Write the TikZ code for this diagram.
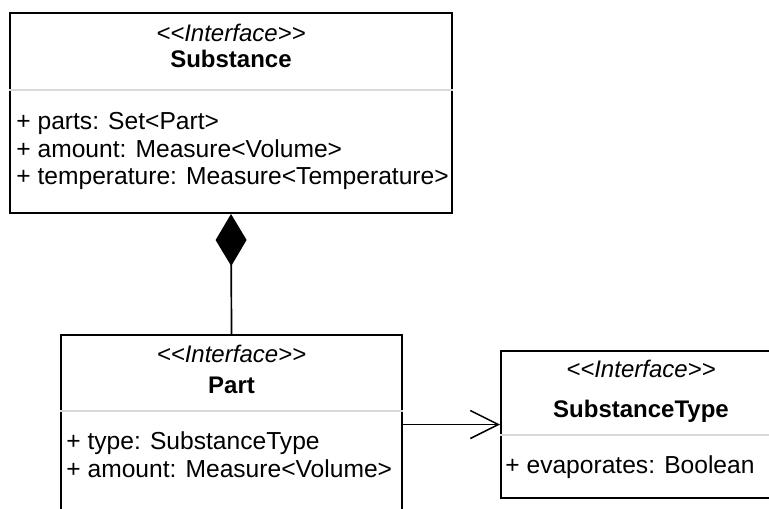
\documentclass[tikz,border=0pt]{standalone}
\usepackage{fontspec}
\setmainfont{Liberation Sans}[Ligatures=TeXOff]
\usetikzlibrary{arrows.meta}

\tikzset{
  classbox/.style={draw=black, line width=1pt, inner sep=0pt},
  sepline/.style={draw=black!15, line width=1pt},
  stereo/.style={font=\fontsize{12}{14}\selectfont\itshape, inner sep=0pt, anchor=base},
  classname/.style={font=\fontsize{12}{14}\selectfont\bfseries, inner sep=0pt, anchor=base},
  attr/.style={font=\fontsize{12.3}{14}\selectfont, inner sep=0pt, anchor=base west}
}

\begin{document}
\begin{tikzpicture}[x=0.5pt, y=-0.5pt]
\useasboundingbox (0,0) rectangle (769,508);
\clip (0,0) rectangle (769,508);

% Substance
\node [classbox, minimum width=221pt, minimum height=100pt] (substance) at (231,113) {};
\draw [sepline] ([yshift=-39pt]substance.north west) -- ([yshift=-39pt]substance.north east);
\node [stereo] (substance-st) at (231,42) {<<Interface>>};
\node [classname] (substance-name) at (231,68) {Substance};
\node [attr] (substance-a1) at (16,129.5) {+ parts: Set<Part>};
\node [attr] (substance-a2) at (16,157) {+ amount: Measure<Volume>};
\node [attr] (substance-a3) at (16,184.5) {+ temperature: Measure<Temperature>};

% Part
\node [classbox, minimum width=170.5pt, minimum height=100pt] (part) at (231.5,435) {};
\draw [sepline] ([yshift=-38.5pt]part.north west) -- ([yshift=-38.5pt]part.north east);
\node [stereo] (part-st) at (231.5,362) {<<Interface>>};
\node [classname] (part-name) at (231.5,393) {Part};
\node [attr] (part-a1) at (66,449) {+ type: SubstanceType};
\node [attr] (part-a2) at (66,477) {+ amount: Measure<Volume>};

% SubstanceType
\node [classbox, minimum width=140pt, minimum height=73.5pt] (stype) at (641,424.5) {};
\draw [sepline] ([yshift=-42.5pt]stype.north west) -- ([yshift=-42.5pt]stype.north east);
\node [stereo] (stype-st) at (641,377) {<<Interface>>};
\node [classname] (stype-name) at (641,417) {SubstanceType};
\node [attr] (stype-a1) at (505,473) {+ evaporates: Boolean};

% links
\draw [{Diamond[length=26pt, width=15.5pt]}-, line width=0.85pt] (substance.south) -- (part.north);
\draw [-{Straight Barb[length=14pt, width=14pt]}, line width=0.75pt] (part.east |- stype.west) -- (stype.west);
\end{tikzpicture}
\end{document}
